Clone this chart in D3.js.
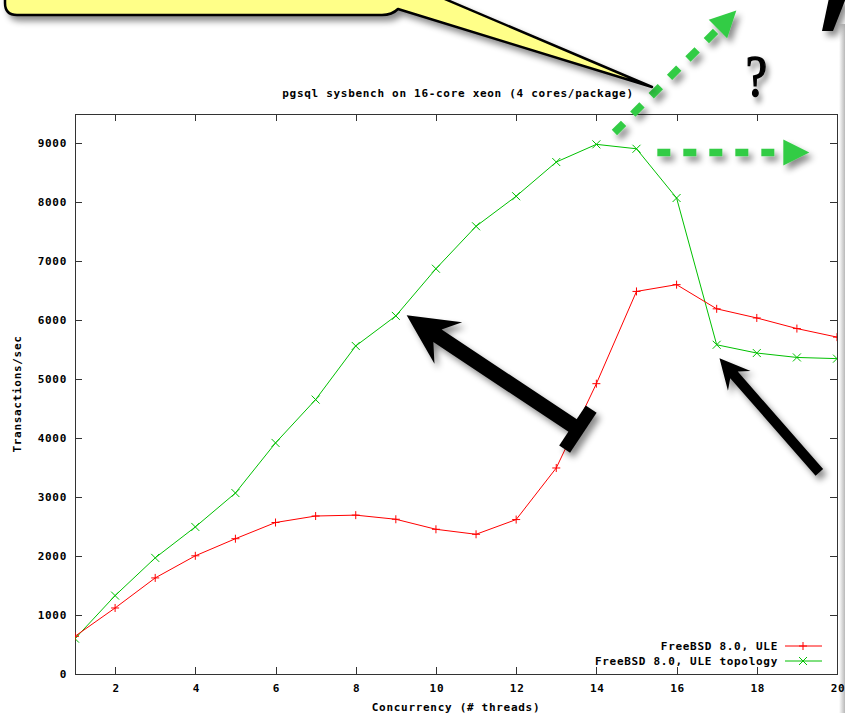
<!DOCTYPE html>
<html><head><meta charset="utf-8">
<script src="https://cdn.jsdelivr.net/npm/d3@7"></script>
<style>
html,body{margin:0;padding:0;background:#fff;}
svg text{font-family:"DejaVu Sans Mono",monospace;font-weight:bold;font-size:11px;letter-spacing:0.7px;fill:#000;}
</style></head>
<body>
<svg id="chart" width="845" height="713"></svg>
<script>
// ---- data ----
const threads = [1,2,3,4,5,6,7,8,9,10,11,12,13,14,15,16,17,18,19,20];
const uleValues = [640,1120,1630,2005,2295,2570,2680,2695,2625,2455,2370,2620,3495,4925,6490,6605,6195,6040,5860,5715];
const topologyValues = [600,1330,1970,2495,3070,3920,4655,5565,6075,6875,7595,8105,8685,8985,8910,8075,5585,5445,5370,5350];
const seriesNames = ["FreeBSD 8.0, ULE", "FreeBSD 8.0, ULE topology"];
const xTicks = [2,4,6,8,10,12,14,16,18,20];
const yTicks = [0,1000,2000,3000,4000,5000,6000,7000,8000,9000];
const titleText = "pgsql sysbench on 16-core xeon (4 cores/package)";
const xLabel = "Concurrency (# threads)";
const yLabel = "Transactions/sec";

const svg = d3.select("#chart");
const W = 845, H = 713;
const L = 75, R = 837, T = 114, B = 674;
const x = d3.scaleLinear().domain([1,20]).range([L,R]);
const y = d3.scaleLinear().domain([0,9500]).range([B,T]);

const defs = svg.append("defs");
const f = defs.append("filter").attr("id","sh").attr("x","-30%").attr("y","-30%").attr("width","170%").attr("height","170%");
f.append("feDropShadow").attr("dx",4).attr("dy",5).attr("stdDeviation",3).attr("flood-color","#000").attr("flood-opacity",0.45);
defs.append("clipPath").attr("id","plotclip").append("rect").attr("x",L).attr("y",T).attr("width",R-L).attr("height",B-T);
const grad = defs.append("linearGradient").attr("id","edge").attr("x1","0").attr("x2","1");
grad.append("stop").attr("offset","0").attr("stop-color","#fff");
grad.append("stop").attr("offset","1").attr("stop-color","#b8b8b8");

// right edge shade
svg.append("rect").attr("x",839).attr("y",24).attr("width",6).attr("height",H-24).attr("fill","url(#edge)");

// ---- axes ----
const axisColor = "#333";
const tl = 7;
const g = svg.append("g").attr("shape-rendering","crispEdges");
g.append("rect").attr("x",L).attr("y",T).attr("width",R-L).attr("height",B-T).attr("fill","none").attr("stroke",axisColor).attr("stroke-width",1);
yTicks.forEach(v=>{
  g.append("line").attr("x1",L).attr("x2",L+tl).attr("y1",Math.round(y(v))+0.5).attr("y2",Math.round(y(v))+0.5).attr("stroke",axisColor);
  g.append("line").attr("x1",R-tl).attr("x2",R).attr("y1",Math.round(y(v))+0.5).attr("y2",Math.round(y(v))+0.5).attr("stroke",axisColor);
});
xTicks.forEach(v=>{
  g.append("line").attr("x1",Math.round(x(v))+0.5).attr("x2",Math.round(x(v))+0.5).attr("y1",B).attr("y2",B-tl).attr("stroke",axisColor);
  g.append("line").attr("x1",Math.round(x(v))+0.5).attr("x2",Math.round(x(v))+0.5).attr("y1",T).attr("y2",T+tl).attr("stroke",axisColor);
});
svg.append("g").selectAll("text").data(yTicks).join("text")
  .attr("x",L-8).attr("y",d=>y(d)+4).attr("text-anchor","end").text(d=>d);
svg.append("g").selectAll("text").data(xTicks).join("text")
  .attr("x",d=>x(d)+1).attr("y",B+18).attr("text-anchor","middle").text(d=>d);
svg.append("text").attr("x",458).attr("y",97).attr("text-anchor","middle").text(titleText);
svg.append("text").attr("x",456).attr("y",711).attr("text-anchor","middle").text(xLabel);
svg.append("text").attr("transform",`translate(21,${(T+B)/2}) rotate(-90)`).attr("text-anchor","middle").text(yLabel);

// ---- series ----
const colors = ["#ff0000","#00c000"];
const series = [uleValues, topologyValues];
const line = d3.line().x((d,i)=>x(threads[i])).y(d=>y(d));
const plot = svg.append("g").attr("clip-path","url(#plotclip)");
const ms = 4;
function marker(sel, type, cx, cy, color){
  const p = type===0
    ? `M${cx-ms},${cy}H${cx+ms}M${cx},${cy-ms}V${cy+ms}`
    : `M${cx-ms},${cy-ms}L${cx+ms},${cy+ms}M${cx-ms},${cy+ms}L${cx+ms},${cy-ms}`;
  sel.append("path").attr("d",p).attr("stroke",color).attr("stroke-width",1).attr("fill","none");
}
[1,0].forEach(si=>{
  plot.append("path").datum(series[si]).attr("d",line).attr("fill","none").attr("stroke",colors[si]).attr("stroke-width",1);
  series[si].forEach((v,i)=>marker(plot, si, x(threads[i]), y(v), colors[si]));
});

// ---- legend ----
const legY = [646,661];
seriesNames.forEach((n,i)=>{
  svg.append("text").attr("x",778).attr("y",legY[i]+4).attr("text-anchor","end").text(n);
  svg.append("line").attr("x1",785).attr("x2",822).attr("y1",legY[i]).attr("y2",legY[i]).attr("stroke",colors[i]);
  marker(svg, i, 803, legY[i], colors[i]);
});

// ---- annotations (positions in data units) ----
function arrowPts(x0,y0,x1,y1,sw,hl,hw,notch){
  const dx=x1-x0, dy=y1-y0, len=Math.hypot(dx,dy), ux=dx/len, uy=dy/len, nx=-uy, ny=ux;
  const P=(a,b)=>[x0+ux*a+nx*b, y0+uy*a+ny*b];
  return [P(0,-sw/2),P(len-notch,-sw/2),P(len-hl,-hw),P(len,0),P(len-hl,hw),P(len-notch,sw/2),P(0,sw/2)];
}
const ann = svg.append("g");
// big arrow with T bar
const bigTail=[13.55,4150], bigTip=[9.27,6085];
{
  const x0=x(bigTail[0]), y0=y(bigTail[1]), x1=x(bigTip[0]), y1=y(bigTip[1]);
  const dx=x1-x0, dy=y1-y0, len=Math.hypot(dx,dy), ux=dx/len, uy=dy/len, nx=-uy, ny=ux;
  const bar=[[x0+nx*24-ux*6,y0+ny*24-uy*6],[x0+nx*24+ux*7,y0+ny*24+uy*7],[x0-nx*24+ux*7,y0-ny*24+uy*7],[x0-nx*24-ux*6,y0-ny*24-uy*6]];
  const gg = ann.append("g").attr("filter","url(#sh)");
  gg.append("polygon").attr("points",arrowPts(x0,y0,x1,y1,15,50,25,37).join(" ")).attr("fill","#000");
  gg.append("polygon").attr("points",bar.join(" ")).attr("fill","#000");
}
// thin arrow
const thinTail=[19.56,3420], thinTip=[17.07,5356];
ann.append("polygon").attr("points",arrowPts(x(thinTail[0]),y(thinTail[1]),x(thinTip[0]),y(thinTip[1]),10,30,15,22).join(" ")).attr("fill","#000").attr("filter","url(#sh)");
// green dashed arrows
const gcol="#33cc44";
function dashArrow(a,b){
  const x0=x(a[0]),y0=y(a[1]),x1=x(b[0]),y1=y(b[1]);
  const dx=x1-x0, dy=y1-y0, len=Math.hypot(dx,dy), ux=dx/len, uy=dy/len, nx=-uy, ny=ux;
  const gg = ann.append("g").attr("filter","url(#sh)");
  gg.append("line").attr("x1",x0).attr("y1",y0).attr("x2",x1-ux*26).attr("y2",y1-uy*26)
    .attr("stroke",gcol).attr("stroke-width",7.5).attr("stroke-dasharray","13 13");
  gg.append("polygon").attr("points",[[x1,y1],[x1-ux*26+nx*13,y1-uy*26+ny*13],[x1-ux*26-nx*13,y1-uy*26-ny*13]].join(" ")).attr("fill",gcol);
}
dashArrow([14.45,9186],[17.49,11254]);
dashArrow([15.52,8847],[19.31,8847]);
// question mark
const qx = x(17.99), qy = y(9797);
ann.append("text").attr("transform",`translate(${qx},${qy}) scale(0.8,1)`).attr("text-anchor","middle")
  .style("font-family","'Liberation Serif',serif").style("font-weight","normal").style("font-size","60px").style("letter-spacing","0")
  .style("stroke","#000").style("stroke-width","1.6px")
  .attr("filter","url(#sh)").text("?");
// top-right glyph fragment
ann.append("polygon").attr("points","829,-2 846,-2 833,31 822,31").attr("fill","#000").attr("filter","url(#sh)");

// speech bubble
ann.append("path")
  .attr("d","M5,-40 V3 Q5,15 17,15 H382 Q392,15 398,9 L652,87 L353,-40 Z")
  .attr("fill","#ffff88").attr("stroke","#000").attr("stroke-width",2.5).attr("stroke-linejoin","round")
  .attr("filter","url(#sh)");
</script>
</body></html>
